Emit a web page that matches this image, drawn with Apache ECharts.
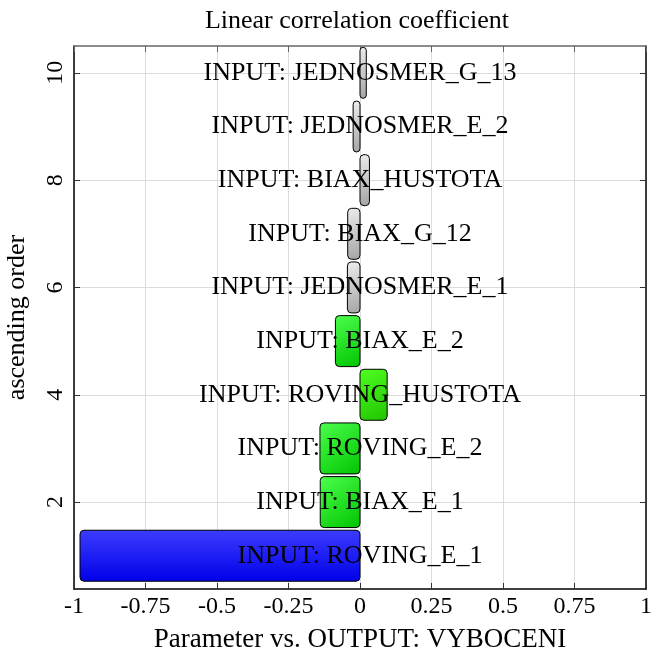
<!DOCTYPE html>
<html><head><meta charset="utf-8">
<script src="https://cdn.jsdelivr.net/npm/echarts@6/dist/echarts.min.js"></script>
<style>html,body{margin:0;padding:0;background:#fff}#c{width:657px;height:650px}</style>
</head><body><div id="c"></div>
<script>
const names = ["INPUT: ROVING_E_1","INPUT: BIAX_E_1","INPUT: ROVING_E_2","INPUT: ROVING_HUSTOTA","INPUT: BIAX_E_2","INPUT: JEDNOSMER_E_1","INPUT: BIAX_G_12","INPUT: BIAX_HUSTOTA","INPUT: JEDNOSMER_E_2","INPUT: JEDNOSMER_G_13"];
const positions = [1,2,3,4,5,6,7,8,9,10];
const values = [-0.979,-0.139,-0.140,0.095,-0.086,-0.044,-0.043,0.033,-0.024,0.022];
const groups = ["blue","green","green","lime","green","gray","gray","gray","gray","gray"];
const xTicks = [-1,-0.75,-0.5,-0.25,0,0.25,0.5,0.75,1];
const yTicks = [2,4,6,8,10];

const F = "'Liberation Serif','DejaVu Serif',serif";
const palettes = {
  blue:[ "#3c3cff","#0000e8", 0,0,0,1],
  green:["#4dff4d","#00c400", 0,0,1,1],
  lime:["#50ff20","#20c400", 0,0,1,1],
  gray:["#ededed","#a4a4a4", 0,0,1,1]
};
function grad(g){
  const p = palettes[g];
  return new echarts.graphic.LinearGradient(p[2],p[3],p[4],p[5],[{offset:0,color:p[0]},{offset:1,color:p[1]}]);
}
const barData = values.map((v,i)=>[v,positions[i],i]);
const labelData = names.map((n,i)=>({value:[0,positions[i]], name:n}));
const fmtX = v => String(Math.round(v*100)/100);
const HALF = 0.475;

const chart = echarts.init(document.getElementById('c'), null, {renderer:'canvas'});
chart.setOption({
  animation:false,
  title:{text:'Linear correlation coefficient', left:352, top:3, textAlign:'center',
    textStyle:{fontFamily:F, fontSize:26, fontWeight:'normal', color:'#000'}},
  grid:{left:74, right:11, top:46, bottom:61, show:false, outerBoundsMode:'none', containLabel:false},
  xAxis:[{
    type:'value', min:-1, max:1, interval:0.25, position:'bottom',
    name:'Parameter vs. OUTPUT: VYBOCENI', nameLocation:'middle', nameGap:37,
    nameTextStyle:{fontFamily:F, fontSize:27, color:'#000'},
    axisLine:{show:true, onZero:false, lineStyle:{color:'#000', width:1.5}},
    axisTick:{show:true, inside:true, length:6, lineStyle:{color:'#333'}},
    axisLabel:{fontFamily:F, fontSize:24, color:'#000', margin:6, formatter:fmtX},
    splitLine:{show:true, lineStyle:{color:'#dcdcdc', width:1}}
  },{
    type:'value', min:-1, max:1, interval:0.25, position:'top',
    axisLine:{show:true, onZero:false, lineStyle:{color:'#666', width:1.5}},
    axisTick:{show:true, inside:true, length:6, lineStyle:{color:'#666'}},
    axisLabel:{show:false}, splitLine:{show:false}
  }],
  yAxis:[{
    type:'value', min:0.38, max:10.5, position:'left',
    name:'ascending order', nameLocation:'middle', nameGap:44, nameRotate:90,
    nameTextStyle:{fontFamily:F, fontSize:26, color:'#000'},
    axisLine:{show:true, onZero:false, lineStyle:{color:'#000', width:1.5}},
    axisTick:{show:true, inside:true, length:6, customValues:yTicks, lineStyle:{color:'#333'}},
    axisLabel:{fontFamily:F, fontSize:24, color:'#000', rotate:90, margin:6, customValues:yTicks},
    splitLine:{show:true, customValues:yTicks, lineStyle:{color:'#dcdcdc', width:1}}
  },{
    type:'value', min:0.38, max:10.5, position:'right',
    axisLine:{show:true, onZero:false, lineStyle:{color:'#000', width:1.5}},
    axisTick:{show:true, inside:true, length:6, customValues:yTicks, lineStyle:{color:'#333'}},
    axisLabel:{show:false}, splitLine:{show:false}
  }],
  series:[{
    type:'custom', xAxisIndex:0, yAxisIndex:0, z:2,
    renderItem:function(params, api){
      const v = api.value(0), y = api.value(1), idx = api.value(2);
      const a = api.coord([0, y + HALF]);
      const b = api.coord([v, y - HALF]);
      const x0 = Math.min(a[0], b[0]), x1 = Math.max(a[0], b[0]);
      return {type:'rect',
        shape:{x:x0, y:a[1], width:x1-x0, height:b[1]-a[1], r:4},
        style:{fill:grad(groups[idx]), stroke:'#000', lineWidth:1}};
    },
    encode:{x:0, y:1},
    data:barData
  },{
    type:'scatter', xAxisIndex:0, yAxisIndex:0, symbolSize:0, silent:true, z:5,
    label:{show:true, position:'inside', formatter:p=>p.name, fontFamily:F, fontSize:26,
      color:'#000', textBorderWidth:0, opacity:1},
    data:labelData
  }]
});
</script></body></html>
